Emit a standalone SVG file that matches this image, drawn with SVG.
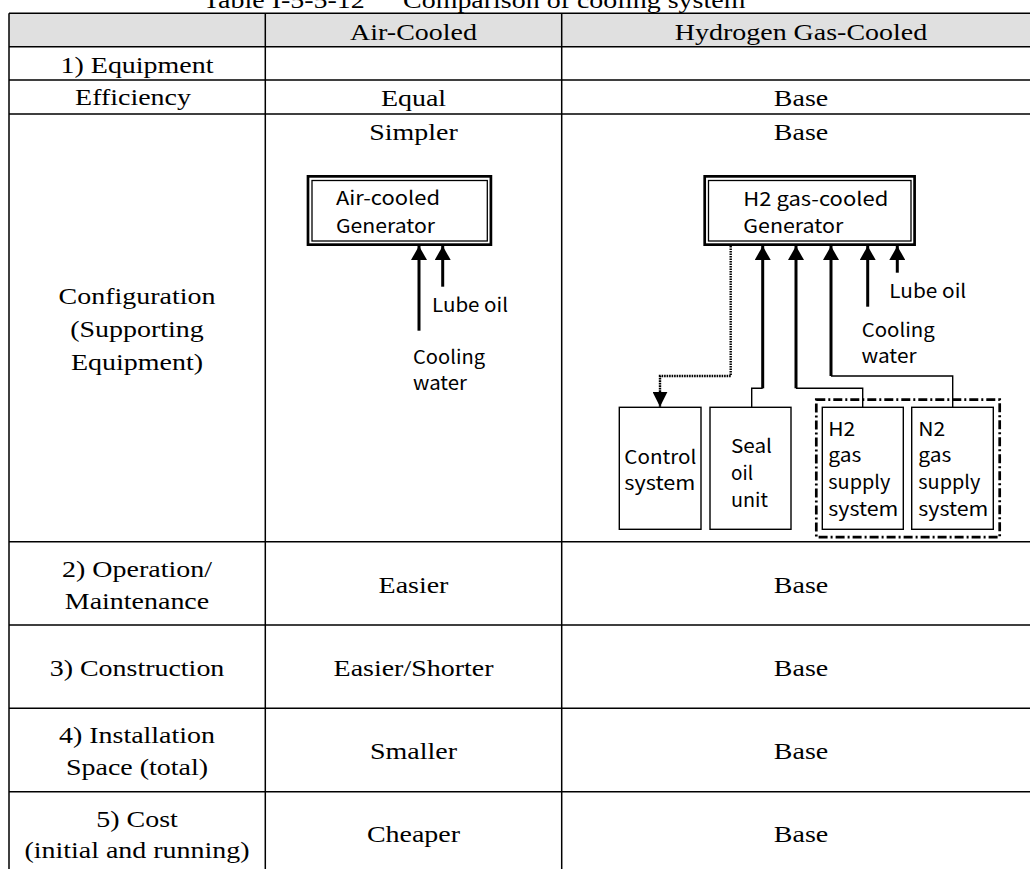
<svg xmlns="http://www.w3.org/2000/svg" width="1030" height="869" viewBox="0 0 1030 869">
<style>
.t{font-family:"Liberation Serif","Times New Roman",serif;font-size:24px;fill:#000;text-anchor:middle}
.s{font-family:"Noto Sans CJK JP","Liberation Sans",sans-serif;font-size:19px;fill:#000}
.grid{stroke:#000;stroke-width:1.5;fill:none}
.thick{stroke:#000;stroke-width:3;fill:none}
.thin{stroke:#000;stroke-width:1.4;fill:none}
.box{stroke:#000;stroke-width:1.4;fill:#fff}
.outer{stroke:#000;stroke-width:2.7;fill:#fff}
.inner{stroke:#000;stroke-width:1.3;fill:none}
.dot{stroke:#000;stroke-width:2.4;fill:none;stroke-dasharray:1.6 0.9}
.dashdot{stroke:#000;stroke-width:2.7;fill:none;stroke-dasharray:9 3 2 3}
</style>
<defs>
<marker id="arr" viewBox="0 0 14 16" refX="14" refY="8" markerWidth="14" markerHeight="16" markerUnits="userSpaceOnUse" orient="auto"><path d="M0,0 L14,8 L0,16 Z" fill="#000"/></marker>
<marker id="arrd" viewBox="0 0 15 15" refX="15" refY="7.5" markerWidth="15" markerHeight="15" markerUnits="userSpaceOnUse" orient="auto"><path d="M0,0 L15,7.5 L0,15 Z" fill="#000"/></marker>
</defs>
<rect width="1030" height="869" fill="#fff"/>

<g id="title">
<text class="t" style="text-anchor:start" transform="translate(203,7.5) scale(1.165,1)"><tspan x="0">Table I-5-5-12</tspan><tspan x="171.7">Comparison of cooling system</tspan></text>
</g>

<g id="table">
<rect x="9" y="13.3" width="1030" height="33.4" fill="#e0e0e0"/>
<path class="grid" d="M9,13.3 H1040 M9,46.7 H1040 M9,80 H1040 M9,114 H1040 M9,541.7 H1040 M9,625 H1040 M9,708.3 H1040 M9,791.7 H1040 M9,13.3 V880 M265.3,13.3 V880 M561.7,13.3 V880"/>
<text class="t" transform="translate(413.5,40) scale(1.165,1)">Air-Cooled</text>
<text class="t" transform="translate(801,40) scale(1.165,1)">Hydrogen Gas-Cooled</text>
<text class="t" transform="translate(137,72.7) scale(1.165,1)">1) Equipment</text>
<text class="t" transform="translate(133,105) scale(1.165,1)">Efficiency</text>
<text class="t" transform="translate(413.5,105.5) scale(1.165,1)">Equal</text>
<text class="t" transform="translate(801,105.5) scale(1.165,1)">Base</text>
<text class="t" transform="translate(413.5,140) scale(1.165,1)">Simpler</text>
<text class="t" transform="translate(801,140) scale(1.165,1)">Base</text>
<text class="t" transform="translate(137,304) scale(1.165,1)">Configuration</text>
<text class="t" transform="translate(137,337) scale(1.165,1)">(Supporting</text>
<text class="t" transform="translate(137,370) scale(1.165,1)">Equipment)</text>
<text class="t" transform="translate(137,577) scale(1.165,1)">2) Operation/</text>
<text class="t" transform="translate(137,608.5) scale(1.165,1)">Maintenance</text>
<text class="t" transform="translate(413.5,593) scale(1.165,1)">Easier</text>
<text class="t" transform="translate(801,593) scale(1.165,1)">Base</text>
<text class="t" transform="translate(137,676) scale(1.165,1)">3) Construction</text>
<text class="t" transform="translate(413.5,676) scale(1.165,1)">Easier/Shorter</text>
<text class="t" transform="translate(801,676) scale(1.165,1)">Base</text>
<text class="t" transform="translate(137,743) scale(1.165,1)">4) Installation</text>
<text class="t" transform="translate(137,775) scale(1.165,1)">Space (total)</text>
<text class="t" transform="translate(413.5,759) scale(1.165,1)">Smaller</text>
<text class="t" transform="translate(801,759) scale(1.165,1)">Base</text>
<text class="t" transform="translate(137,826.5) scale(1.165,1)">5) Cost</text>
<text class="t" transform="translate(137,858) scale(1.165,1)">(initial and running)</text>
<text class="t" transform="translate(413.5,842) scale(1.165,1)">Cheaper</text>
<text class="t" transform="translate(801,842) scale(1.165,1)">Base</text>
</g>

<g id="gen-air">
<rect class="outer" x="308" y="176.35" width="182.9" height="68.3"/>
<rect class="inner" x="312" y="180.5" width="175.3" height="60.5"/>
<text class="s" x="336" y="205" textLength="104" lengthAdjust="spacingAndGlyphs">Air-cooled</text>
<text class="s" x="336" y="233" textLength="99" lengthAdjust="spacingAndGlyphs">Generator</text>
</g>

<g id="labels-air">
<text class="s" x="432" y="311.7" textLength="76" lengthAdjust="spacingAndGlyphs">Lube oil</text>
<text class="s" x="413" y="364" textLength="72" lengthAdjust="spacingAndGlyphs">Cooling</text>
<text class="s" x="413" y="390" textLength="54" lengthAdjust="spacingAndGlyphs">water</text>
</g>

<g id="gen-h2">
<rect class="outer" x="704.7" y="176.35" width="209.9" height="68.3"/>
<rect class="inner" x="708.5" y="180.5" width="202.5" height="60.5"/>
<text class="s" x="743.3" y="206" textLength="145" lengthAdjust="spacingAndGlyphs">H2 gas-cooled</text>
<text class="s" x="743.3" y="233.3" textLength="100" lengthAdjust="spacingAndGlyphs">Generator</text>
</g>

<g id="labels-h2">
<text class="s" x="889.3" y="297.7" textLength="77" lengthAdjust="spacingAndGlyphs">Lube oil</text>
<text class="s" x="861.7" y="336.7" textLength="73" lengthAdjust="spacingAndGlyphs">Cooling</text>
<text class="s" x="861.5" y="362.7" textLength="55" lengthAdjust="spacingAndGlyphs">water</text>
</g>

<g id="gas-supply-group">
<rect class="dashdot" x="816.3" y="399.6" width="183.4" height="137.5"/>
</g>

<g id="control">
<rect class="box" x="619.3" y="407.3" width="81.7" height="122"/>
<text class="s" x="624.3" y="464" textLength="72" lengthAdjust="spacingAndGlyphs">Control</text>
<text class="s" x="624.3" y="490" textLength="71" lengthAdjust="spacingAndGlyphs">system</text>
</g>

<g id="seal-oil">
<rect class="box" x="710" y="407.3" width="81" height="122"/>
<text class="s" x="731" y="453.3" textLength="41" lengthAdjust="spacingAndGlyphs">Seal</text>
<text class="s" x="731" y="480" textLength="22" lengthAdjust="spacingAndGlyphs">oil</text>
<text class="s" x="731" y="506.7" textLength="37" lengthAdjust="spacingAndGlyphs">unit</text>
</g>

<g id="h2-supply">
<rect class="box" x="822.3" y="407.3" width="81" height="122"/>
<text class="s" x="828.3" y="435.5" textLength="27" lengthAdjust="spacingAndGlyphs">H2</text>
<text class="s" x="828.3" y="462" textLength="33" lengthAdjust="spacingAndGlyphs">gas</text>
<text class="s" x="828.3" y="489" textLength="62" lengthAdjust="spacingAndGlyphs">supply</text>
<text class="s" x="828.3" y="515.5" textLength="70" lengthAdjust="spacingAndGlyphs">system</text>
</g>

<g id="n2-supply">
<rect class="box" x="911.7" y="407.3" width="81.6" height="122"/>
<text class="s" x="918.3" y="435.5" textLength="27" lengthAdjust="spacingAndGlyphs">N2</text>
<text class="s" x="918.3" y="462" textLength="33" lengthAdjust="spacingAndGlyphs">gas</text>
<text class="s" x="918.3" y="489" textLength="62" lengthAdjust="spacingAndGlyphs">supply</text>
<text class="s" x="918.3" y="515.5" textLength="70" lengthAdjust="spacingAndGlyphs">system</text>
</g>

<g id="connectors">
<path class="thick" d="M419,330.7 V246" marker-end="url(#arr)"/>
<path class="thick" d="M442.7,286.7 V246" marker-end="url(#arr)"/>
<path class="thick" d="M762.7,388.3 V246" marker-end="url(#arr)"/>
<path class="thin" d="M762.7,388.3 H751.7 V407.3"/>
<path class="thick" d="M796,388.3 V246" marker-end="url(#arr)"/>
<path class="thin" d="M796,388.3 H862.7 V407.3"/>
<path class="thick" d="M831,376 V246" marker-end="url(#arr)"/>
<path class="thin" d="M831,376 H952.7 V407.3"/>
<path class="thick" d="M867.7,306.7 V246" marker-end="url(#arr)"/>
<path class="thick" d="M897.3,272.7 V246" marker-end="url(#arr)"/>
<path class="dot" d="M730.7,246 V376 H660 V406.7" marker-end="url(#arrd)"/>
</g>
</svg>
